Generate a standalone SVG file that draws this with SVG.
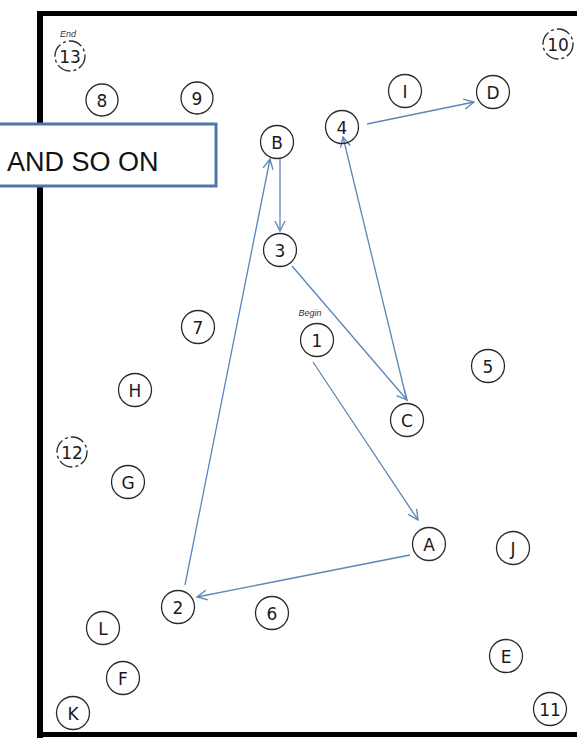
<svg xmlns="http://www.w3.org/2000/svg" width="577" height="740" viewBox="0 0 577 740">
<style>
.c{fill:none;stroke:#2a2a2a;stroke-width:1.3}
.d{fill:none;stroke:#2a2a2a;stroke-width:1.3;stroke-dasharray:14 3 3 3}
.t{font-family:"DejaVu Sans","Liberation Sans",sans-serif;font-size:17px;fill:#1a1a1a;text-anchor:middle;dominant-baseline:central}
.s{font-family:"Liberation Sans",sans-serif;font-style:italic;font-size:9px;fill:#333;text-anchor:middle}
.a{fill:none;stroke:#5b86b8;stroke-width:1.3;marker-end:url(#ah)}
</style>
<defs>
<marker id="ah" viewBox="0 0 12 12" refX="11" refY="6" markerWidth="12" markerHeight="12" markerUnits="userSpaceOnUse" orient="auto">
<path d="M1,1 L11,6 L1,11" fill="none" stroke="#5b86b8" stroke-width="1.3"/>
</marker>
</defs>
<rect width="577" height="740" fill="#ffffff"/>
<g id="frame" fill="#000">
<rect x="37" y="11" width="540" height="5"/>
<rect x="37" y="11" width="6" height="727"/>
<rect x="37" y="732" width="540" height="5"/>
</g>
<g id="connectors">
<line class="a" x1="313" y1="362" x2="418" y2="520"/>
<line class="a" x1="410" y1="555" x2="197" y2="597"/>
<line class="a" x1="185" y1="585" x2="270" y2="159"/>
<line class="a" x1="280" y1="159" x2="280" y2="231"/>
<line class="a" x1="292" y1="266" x2="407" y2="400"/>
<line class="a" x1="407" y1="401" x2="343" y2="137"/>
<line class="a" x1="367" y1="124" x2="474" y2="102"/>
</g>
<g id="n13"><text class="s" x="68" y="37">End</text><circle class="d" cx="70" cy="56" r="15"/><text class="t" x="70" y="57">13</text></g>
<g id="n8"><circle class="c" cx="102" cy="100" r="16"/><text class="t" x="102" y="101">8</text></g>
<g id="n9"><circle class="c" cx="197" cy="98" r="16"/><text class="t" x="197" y="99">9</text></g>
<g id="nB"><circle class="c" cx="277" cy="142" r="16.5"/><text class="t" x="277" y="143">B</text></g>
<g id="n4"><circle class="c" cx="342" cy="127" r="16.5"/><text class="t" x="342" y="128">4</text></g>
<g id="nI"><circle class="c" cx="405" cy="91" r="16.5"/><text class="t" x="405" y="92">I</text></g>
<g id="nD"><circle class="c" cx="493" cy="92" r="16.5"/><text class="t" x="493" y="93">D</text></g>
<g id="n10"><circle class="d" cx="558" cy="44" r="15"/><text class="t" x="558" y="45">10</text></g>
<g id="n3"><circle class="c" cx="280" cy="250" r="16.5"/><text class="t" x="280" y="251">3</text></g>
<g id="n7"><circle class="c" cx="198" cy="327" r="16.5"/><text class="t" x="198" y="328">7</text></g>
<g id="n1"><text class="s" x="310" y="316">Begin</text><circle class="c" cx="317" cy="340" r="16.5"/><text class="t" x="317" y="341">1</text></g>
<g id="n5"><circle class="c" cx="488" cy="366" r="16.5"/><text class="t" x="488" y="367">5</text></g>
<g id="nH"><circle class="c" cx="135" cy="390" r="16.5"/><text class="t" x="135" y="391">H</text></g>
<g id="nC"><circle class="c" cx="407" cy="420" r="16.5"/><text class="t" x="407" y="421">C</text></g>
<g id="n12"><circle class="d" cx="72" cy="452" r="15"/><text class="t" x="72" y="453">12</text></g>
<g id="nG"><circle class="c" cx="128" cy="482" r="16.5"/><text class="t" x="128" y="483">G</text></g>
<g id="nA"><circle class="c" cx="429" cy="544" r="16.5"/><text class="t" x="429" y="545">A</text></g>
<g id="nJ"><circle class="c" cx="513" cy="548" r="16.5"/><text class="t" x="513" y="549">J</text></g>
<g id="n2"><circle class="c" cx="178" cy="607" r="16.5"/><text class="t" x="178" y="608">2</text></g>
<g id="n6"><circle class="c" cx="272" cy="613" r="16.5"/><text class="t" x="272" y="614">6</text></g>
<g id="nL"><circle class="c" cx="103" cy="628" r="16.5"/><text class="t" x="103" y="629">L</text></g>
<g id="nE"><circle class="c" cx="506" cy="656" r="16.5"/><text class="t" x="506" y="657">E</text></g>
<g id="nF"><circle class="c" cx="123" cy="678" r="16.5"/><text class="t" x="123" y="679">F</text></g>
<g id="nK"><circle class="c" cx="73" cy="713" r="16.5"/><text class="t" x="73" y="714">K</text></g>
<g id="n11"><circle class="c" cx="550" cy="709" r="16.5"/><text class="t" x="550" y="710">11</text></g>
<g id="note">
<rect x="-3" y="124" width="219" height="62" fill="#ffffff" stroke="#4f76a8" stroke-width="3"/>
<text x="7" y="171" font-family="Liberation Sans, Arial, sans-serif" font-size="27" fill="#111">AND SO ON</text>
</g>
</svg>
